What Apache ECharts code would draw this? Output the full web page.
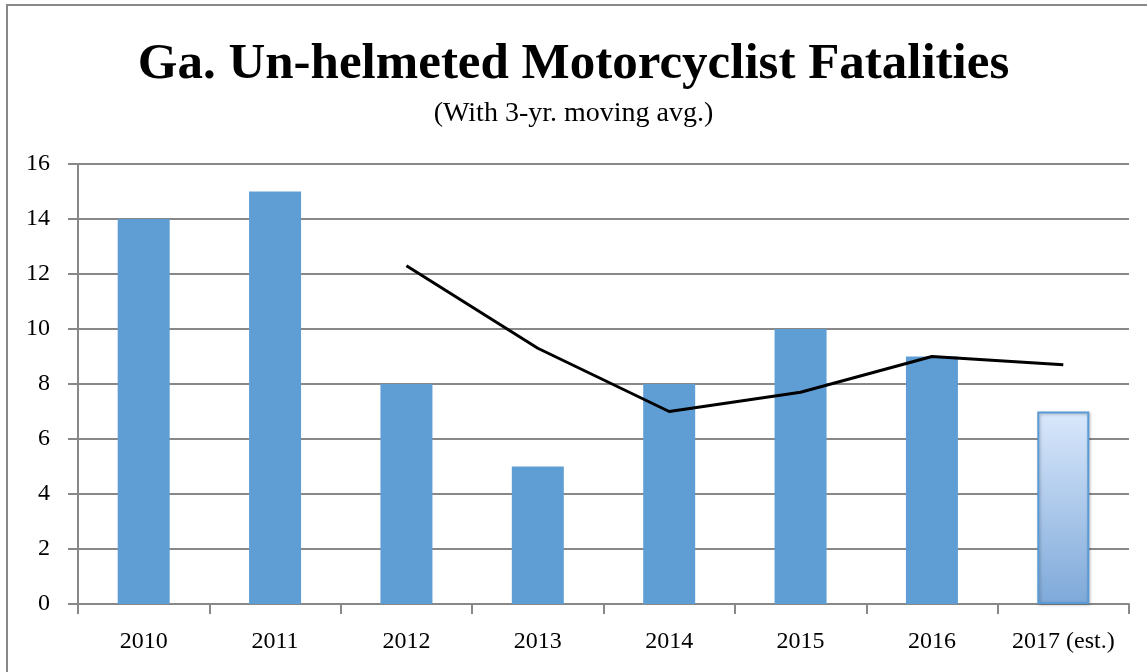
<!DOCTYPE html>
<html style="height: 100%">
<head>
  <meta charset="utf-8">
</head>
<body style="height: 100%; margin: 0">
  <div id="container" style="height: 100%"></div>
  <script type="text/javascript" src="https://cdn.jsdelivr.net/npm/echarts@6/dist/echarts.min.js"></script>
  <script type="text/javascript">
    var years = ['2010', '2011', '2012', '2013', '2014', '2015', '2016', '2017 (est.)'];
    var fatalities = [14, 15, 8, 5, 8, 10, 9, 7];
    var movingAvg = [null, null, 12.3, 9.3, 7, 7.7, 9, 8.7];

    var dom = document.getElementById('container');
    var myChart = echarts.init(dom, null, { renderer: 'canvas' });
    var serif = '"Liberation Serif", "DejaVu Serif", serif';

    var barData = fatalities.map(function (v, i) {
      if (i === years.length - 1) {
        // estimate bar: light gradient with outline
        return {
          value: v,
          itemStyle: {
            color: new echarts.graphic.LinearGradient(0, 0, 0, 1, [
              { offset: 0, color: '#dae8fc' },
              { offset: 1, color: '#7ea9d9' }
            ]),
            borderColor: '#5b9bd5',
            borderWidth: 2,
            shadowColor: 'rgba(0,0,0,0.25)',
            shadowBlur: 3,
            shadowOffsetX: 1,
            shadowOffsetY: 1
          }
        };
      }
      return v;
    });

    var option = {
      animation: false,
      backgroundColor: '#fff',
      title: {
        text: 'Ga. Un-helmeted Motorcyclist Fatalities',
        subtext: '(With 3-yr. moving avg.)',
        left: 'center',
        top: 34,
        itemGap: 10,
        textStyle: { fontFamily: serif, fontSize: 51, fontWeight: 'bold', color: '#000' },
        subtextStyle: { fontFamily: serif, fontSize: 28, color: '#000' }
      },
      graphic: [{
        type: 'rect',
        shape: { x: 7, y: 5, width: 1300, height: 800 },
        style: { fill: 'none', stroke: '#888', lineWidth: 2 },
        silent: true
      }],
      grid: { left: 78, right: 18, top: 164, bottom: 68 },
      xAxis: {
        type: 'category',
        data: years,
        axisLine: { lineStyle: { color: '#888', width: 2 } },
        axisTick: { show: true, interval: 0, length: 10, lineStyle: { color: '#888', width: 2 } },
        axisLabel: { interval: 0, fontFamily: serif, fontSize: 24, color: '#000', margin: 26 }
      },
      yAxis: {
        type: 'value',
        min: 0,
        max: 16,
        interval: 2,
        axisLine: { show: true, lineStyle: { color: '#888', width: 2 } },
        axisTick: { show: true, length: 10, lineStyle: { color: '#888', width: 2 } },
        splitLine: { lineStyle: { color: '#888', width: 2 } },
        axisLabel: { fontFamily: serif, fontSize: 24, color: '#000', margin: 28 }
      },
      series: [
        {
          name: 'Fatalities',
          type: 'bar',
          data: barData,
          barWidth: 52,
          itemStyle: { color: '#5f9ed4' }
        },
        {
          name: '3-yr. moving avg.',
          type: 'line',
          data: movingAvg,
          symbol: 'none',
          lineStyle: { color: '#000', width: 3 },
          z: 5
        }
      ]
    };
    myChart.setOption(option);
    window.addEventListener('resize', myChart.resize);
  </script>
</body>
</html>
